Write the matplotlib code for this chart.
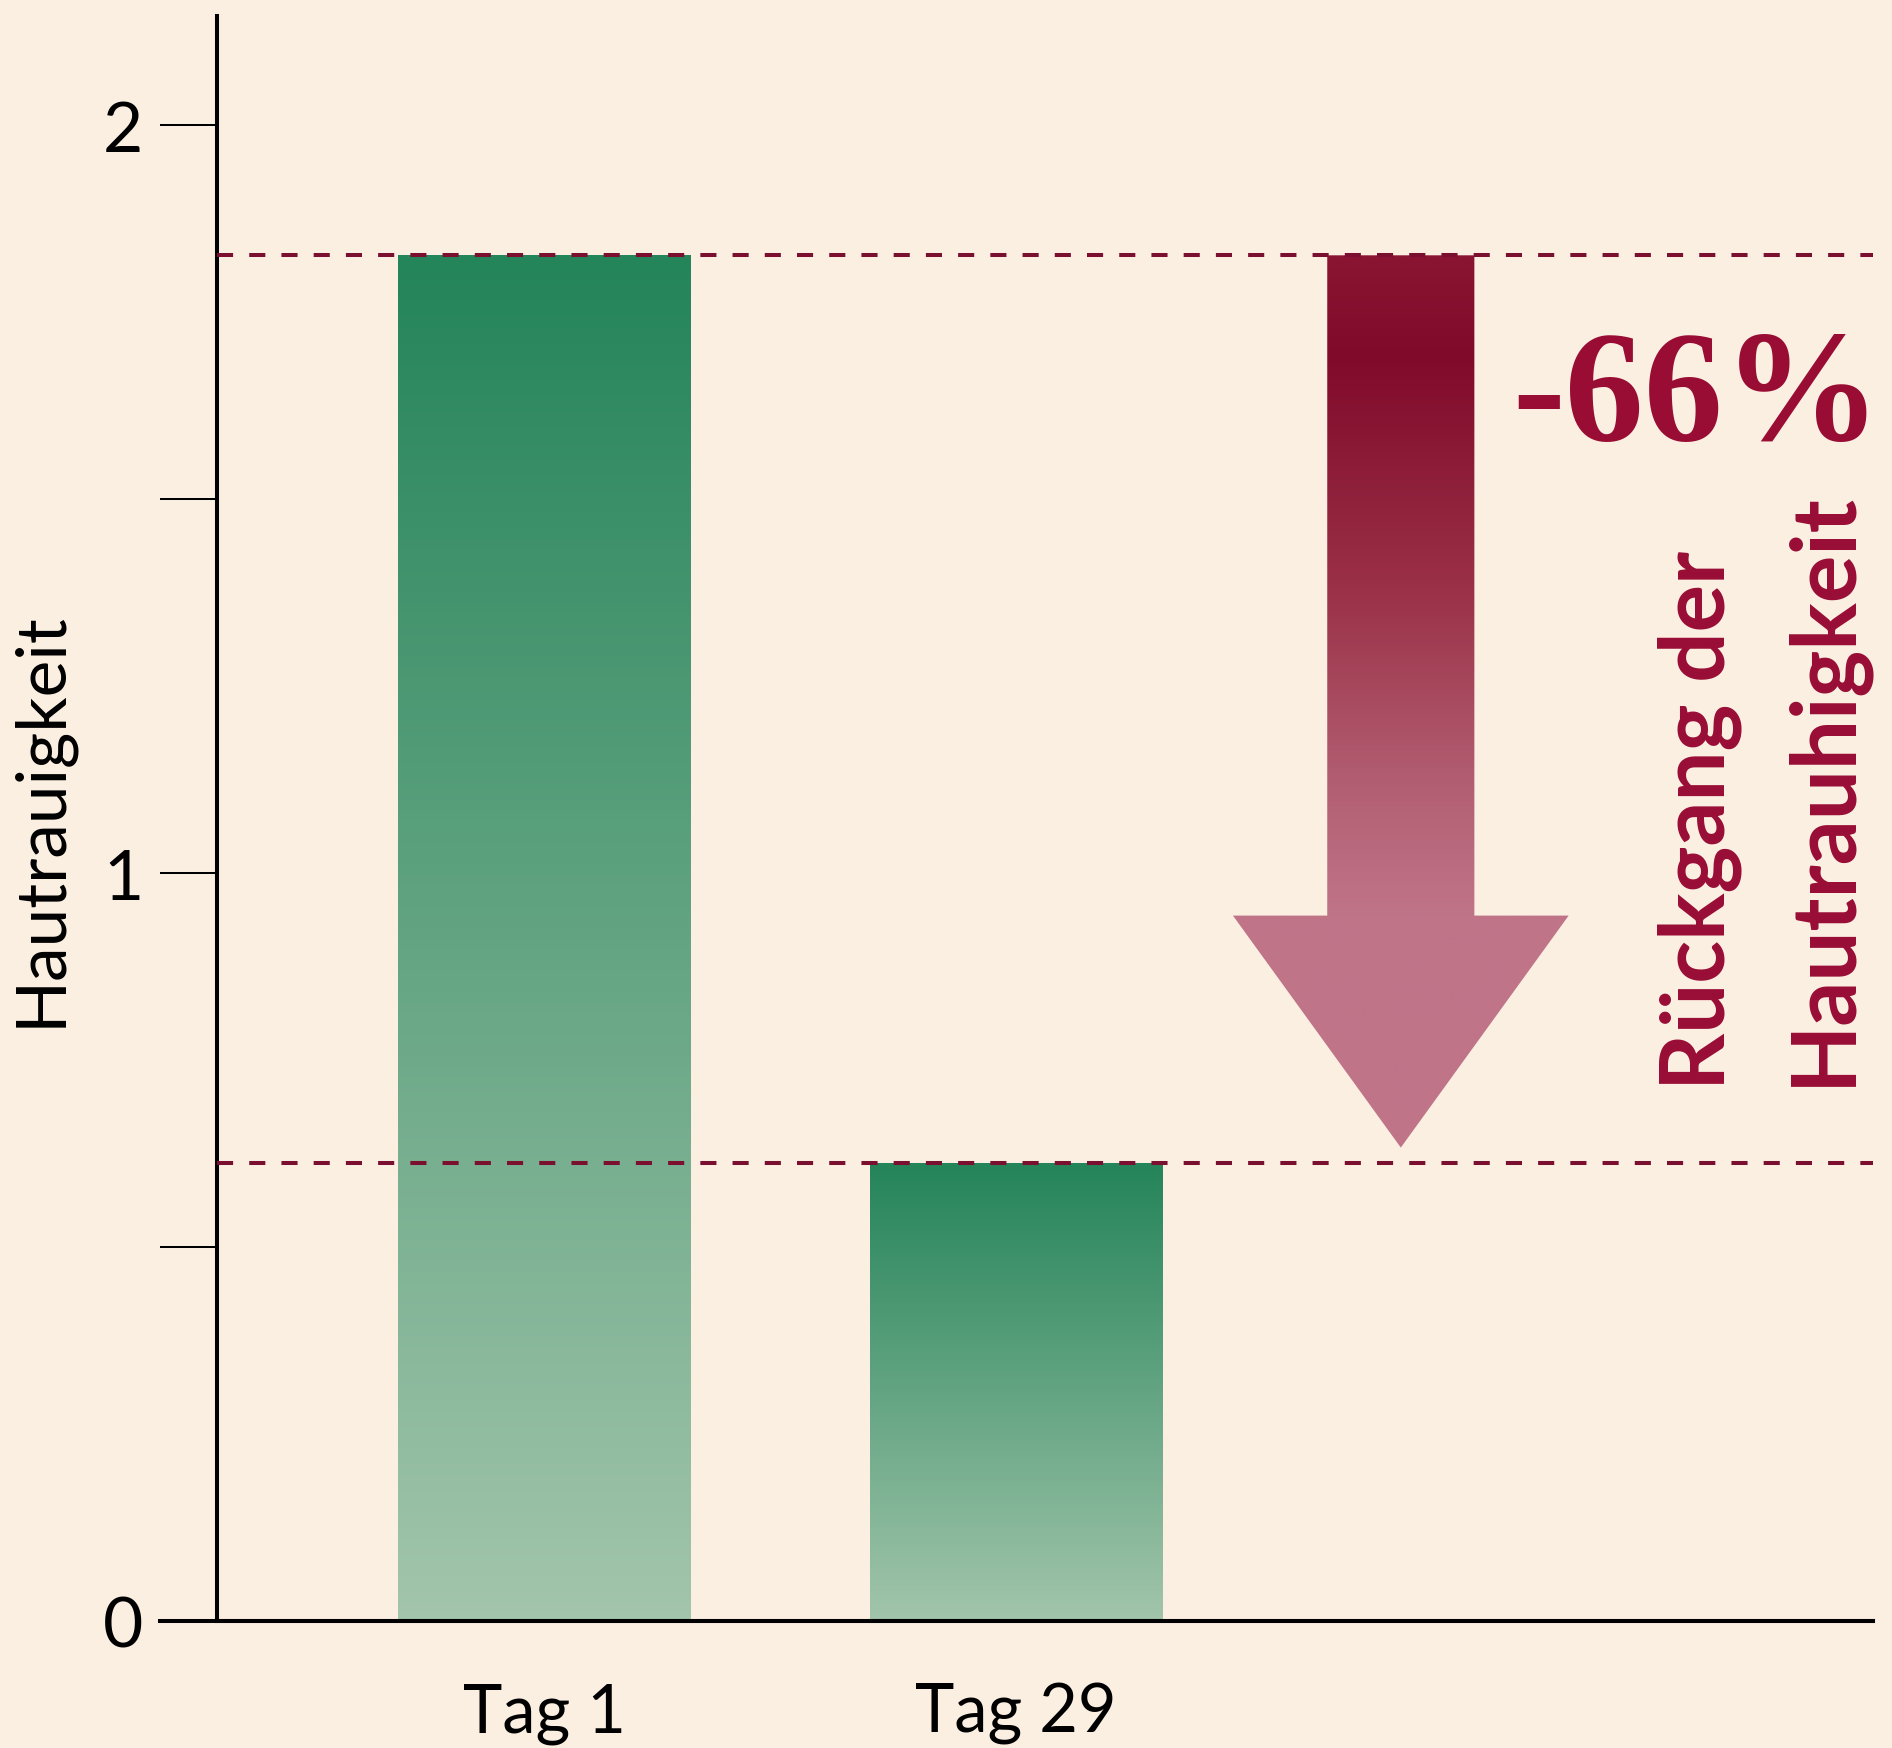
import numpy as np
import matplotlib.pyplot as plt
from matplotlib.colors import LinearSegmentedColormap
from matplotlib.patches import Polygon

# --- data ---
days = ["Tag 1", "Tag 29"]
roughness = [1.826, 0.613]
change_label = "-66%"
note_lines = ["Rückgang der", "Hautrauhigkeit"]
y_label = "Hautrauigkeit"
y_major = [0, 1, 2]
y_minor = [0.5, 1.5]

# --- style ---
BG = "#FBEFE2"
MAROON = "#990D35"
DASH = "#7B0F2F"
plt.rcParams['font.family'] = ['Lato', 'DejaVu Sans']

green = LinearSegmentedColormap.from_list("green", ["#A2C5AB", "#24845A"])
red = LinearSegmentedColormap.from_list(
    "red", [(0.0, "#8A1532"), (0.15, "#800A2A"), (0.5, "#9A3047"),
            (0.8, "#B25E72"), (1.0, "#C07488")])

fig = plt.figure(figsize=(18.92, 17.49), dpi=100)
fig.patch.set_facecolor(BG)
ax = fig.add_axes([0.1147, 0.0726, 0.8753, 0.9177])
ax.set_facecolor(BG)

# bars with vertical gradient
x = np.arange(len(days))
bar_w = 0.62
bars = ax.bar(x, roughness, bar_w, color="none", edgecolor="none", zorder=2)
grad = np.linspace(0, 1, 256).reshape(-1, 1)
for b in bars:
    im = ax.imshow(grad, cmap=green, aspect="auto", origin="lower",
                   extent=[b.get_x(), b.get_x() + b.get_width(), 0, b.get_height()],
                   zorder=2, interpolation="bilinear")
    im.set_clip_path(b)

# dashed reference lines at both bar heights
for v in roughness:
    ax.axhline(v, color=DASH, lw=2.9, dashes=(4, 4), zorder=4)

# arrow from day-1 level down to day-29 level
cx = 1.816
shaft_hw = 0.156
head_hw = 0.356
top = roughness[0]
tip = roughness[1] + 0.02
shaft_end = top - 0.74 * (top - tip)
arrow = Polygon([(cx - shaft_hw, top), (cx + shaft_hw, top),
                 (cx + shaft_hw, shaft_end), (cx + head_hw, shaft_end),
                 (cx, tip), (cx - head_hw, shaft_end),
                 (cx - shaft_hw, shaft_end)],
                closed=True, facecolor="none", edgecolor="none")
ax.add_patch(arrow)
yy = np.linspace(tip, top, 400)
t = np.clip((top - yy) / (top - shaft_end), 0, 1).reshape(-1, 1)
im = ax.imshow(t, cmap=red, vmin=0, vmax=1, aspect="auto", origin="lower",
               extent=[cx - head_hw, cx + head_hw, tip, top], zorder=3,
               interpolation="bilinear")
im.set_clip_path(arrow)

ax.text(1.005, 0.7364, change_label, transform=ax.transAxes, ha="right",
        va="baseline", fontsize=114, fontweight="bold", color=MAROON,
        family=["Liberation Serif", "DejaVu Serif"])
ax.text(0.9100, 0.3315, note_lines[0], transform=ax.transAxes, rotation=90,
        rotation_mode="anchor", ha="left", va="baseline", fontsize=64,
        fontweight="bold", color=MAROON)
ax.text(0.9855, 0.334, note_lines[1], transform=ax.transAxes, rotation=90,
        rotation_mode="anchor", ha="left", va="baseline", fontsize=64,
        fontweight="bold", color=MAROON)

# axes
ax.set_xlim(-0.6946, 2.8176)
ax.set_ylim(0, 2.146)
ax.spines["top"].set_visible(False)
ax.spines["right"].set_visible(False)
ax.spines["left"].set_linewidth(2.9)
ax.spines["bottom"].set_linewidth(2.9)
ax.axhline(0, xmin=-0.0344, xmax=1, color="black", lw=2.9, clip_on=False, zorder=5)

ax.set_yticks(y_major)
ax.set_yticks(y_minor, minor=True)
ax.tick_params(axis="y", which="both", length=41, width=1.45, pad=12,
               labelsize=50, colors="black")
ax.set_xticks(x, days)
ax.tick_params(axis="x", length=0, pad=44, labelsize=48)

ax.set_ylabel(y_label, fontsize=50)
ax.yaxis.set_label_coords(-0.087, 0.5)

fig.savefig("out.png", dpi=100, facecolor=BG)
